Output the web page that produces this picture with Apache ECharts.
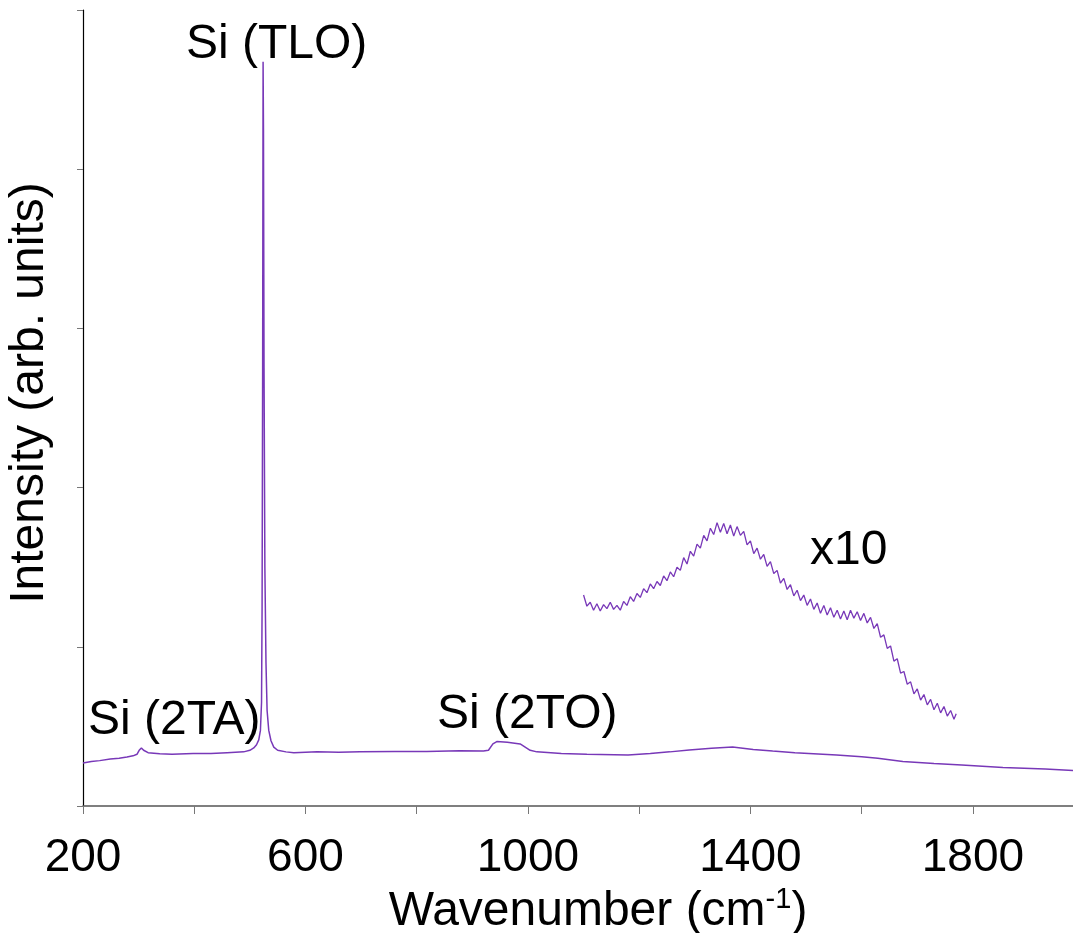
<!DOCTYPE html>
<html>
<head>
<meta charset="utf-8">
<script src="https://cdn.jsdelivr.net/npm/echarts@6/dist/echarts.min.js"></script>
<style>
html,body{margin:0;padding:0;background:#fff;}
#chart{width:1073px;height:933px;}
</style>
</head>
<body>
<div id="chart"></div>
<script>
// Raman spectrum (wavenumber cm-1, intensity arb. units)
var mainSpectrum = [
  [200,5.4],[215,5.6],[230,5.7],[249,5.9],[265,6.0],[279,6.15],[290,6.3],[297,6.5],[301,7.0],[305,7.3],[309,7.0],[317,6.7],
  [338,6.55],[360,6.5],[398,6.6],[430,6.6],[459,6.7],[489,6.8],[500,7.0],[507,7.3],[512,7.7],[516,8.3],[519,9.5],[521,13],
  [522,25],[523,55],[523.8,93.5],[524.5,85],[525.5,55],[527,30],[529,18],[531,12],[534,9.5],[538,8.2],[543,7.4],[550,7.0],
  [565,6.8],[579,6.7],[621,6.8],[660,6.75],[698,6.8],[760,6.85],[818,6.85],[877,6.95],[920,6.9],[929,7.0],[937,7.8],[944,8.1],
  [963,8.0],[986,7.8],[1004,7.0],[1016,6.8],[1060,6.6],[1106,6.5],[1180,6.4],[1220,6.6],[1255,6.8],[1290,7.05],[1330,7.25],
  [1368,7.4],[1405,7.1],[1440,6.9],[1480,6.7],[1555,6.4],[1600,6.2],[1629,6.0],[1674,5.6],[1730,5.35],[1780,5.15],[1854,4.85],
  [1930,4.65],[1980,4.45]
];
// x10 magnified region (as drawn)
var x10Spectrum = [
  [1100,26.5],[1106,25.1],[1112,25.6],[1118,24.6],[1124,25.4],[1130,24.5],[1136,25.3],[1142,24.8],[1148,25.6],[1154,24.7],
  [1160,25.2],[1166,24.6],[1172,25.7],[1178,25.2],[1184,26.3],[1190,25.7],[1196,26.7],[1202,26.2],[1208,27.3],[1214,26.8],
  [1220,27.9],[1226,27.3],[1232,28.2],[1238,27.7],[1244,28.9],[1250,28.3],[1256,29.4],[1262,28.8],[1268,30.0],[1274,29.6],
  [1280,31.2],[1286,30.4],[1292,32.0],[1298,31.4],[1304,32.9],[1310,32.4],[1316,34.0],[1322,33.3],[1328,34.9],[1334,34.1],
  [1340,35.6],[1346,34.4],[1352,35.5],[1358,34.2],[1364,35.3],[1370,33.9],[1376,35.1],[1382,34.0],[1388,34.5],[1394,32.8],
  [1400,33.3],[1406,31.7],[1412,32.4],[1418,31.0],[1424,31.6],[1430,30.1],[1436,30.7],[1442,29.2],[1448,29.6],[1454,28.0],
  [1460,28.6],[1466,27.2],[1472,27.8],[1478,26.4],[1484,27.1],[1490,25.8],[1496,26.5],[1502,25.2],[1508,26.0],[1514,24.7],
  [1520,25.5],[1526,24.2],[1532,25.2],[1538,24.0],[1544,24.9],[1550,23.7],[1556,24.6],[1562,23.5],[1568,24.5],[1574,23.4],
  [1580,24.6],[1586,23.6],[1592,24.4],[1598,23.3],[1604,24.2],[1610,23.0],[1616,23.7],[1622,22.3],[1628,22.9],[1634,21.2],
  [1640,21.5],[1646,19.8],[1652,20.1],[1658,18.2],[1664,18.5],[1670,16.7],[1676,16.9],[1682,15.3],[1688,15.6],[1694,14.1],
  [1700,14.7],[1706,13.3],[1712,14.0],[1718,12.7],[1724,13.4],[1730,12.1],[1736,12.9],[1742,11.7],[1748,12.5],[1754,11.3],
  [1760,12.0],[1766,10.9],[1770,11.6]
];
var xTickLabels = [200, 600, 1000, 1400, 1800];
var annotations = [
  {text: 'Si (TLO)', x: 186, y: 45},
  {text: 'Si (2TA)', x: 88, y: 721},
  {text: 'Si (2TO)', x: 437, y: 715},
  {text: 'x10', x: 810, y: 551}
];

var FONT = '"Liberation Sans", Arial, sans-serif';
var lineColor = '#7838B8';
var chart = echarts.init(document.getElementById('chart'), null, {renderer: 'canvas'});
chart.setOption({
  animation: false,
  backgroundColor: '#fff',
  grid: {left: 83, right: 0, top: 10, bottom: 127, containLabel: false, outerBoundsMode: 'none'},
  xAxis: {
    type: 'value', min: 200, max: 1980, interval: 200,
    axisLine: {show: true, onZero: false, lineStyle: {color: '#555', width: 1.5}},
    axisTick: {show: true, length: 8, lineStyle: {color: '#777', width: 1}},
    splitLine: {show: false},
    axisLabel: {
      show: true, showMaxLabel: false, margin: 29, color: '#000', fontSize: 46, fontFamily: FONT,
      formatter: function (v) { return xTickLabels.indexOf(v) >= 0 ? String(v) : ''; }
    },
    name: 'Wavenumber (cm{sup|-1})',
    nameLocation: 'middle', nameGap: 71,
    nameTextStyle: {
      color: '#000', fontSize: 48, fontFamily: FONT, padding: [0, 0, 0, 40],
      rich: {sup: {fontSize: 29, fontFamily: FONT, color: '#000', verticalAlign: 'top', padding: [0, 0, 22, 0]}}
    }
  },
  yAxis: {
    type: 'value', min: 0, max: 100, interval: 20,
    axisLine: {show: true, onZero: false, lineStyle: {color: '#000', width: 1.2}},
    axisTick: {show: true, length: 6, lineStyle: {color: '#777', width: 1}},
    splitLine: {show: false},
    axisLabel: {show: false},
    name: 'Intensity (arb. units)',
    nameLocation: 'middle', nameGap: 29,
    nameTextStyle: {color: '#000', fontSize: 48, fontFamily: FONT, padding: [0, 0, 0, 30]}
  },
  series: [
    {type: 'line', data: mainSpectrum, showSymbol: false, symbol: 'none', lineStyle: {color: lineColor, width: 1.5}, z: 3},
    {type: 'line', data: x10Spectrum, showSymbol: false, symbol: 'none', lineStyle: {color: lineColor, width: 1.3}, z: 3}
  ],
  graphic: annotations.map(function (a) {
    return {
      type: 'text', x: a.x, y: a.y, z: 10,
      style: {text: a.text, font: '48px ' + FONT, fill: '#000', align: 'left', verticalAlign: 'middle'}
    };
  })
});
</script>
</body>
</html>
